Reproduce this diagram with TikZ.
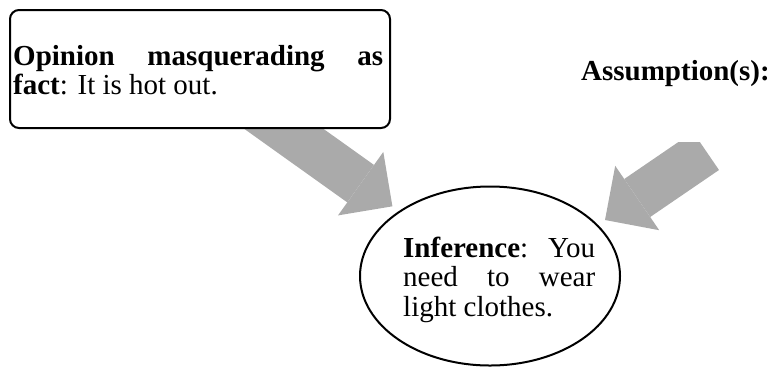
\documentclass[tikz,border=0pt]{standalone}
\usepackage{fontspec}
\setmainfont{Liberation Serif}
\usetikzlibrary{arrows.meta,positioning,calc,shapes.geometric,backgrounds}
\definecolor{ink}{HTML}{000000}
\definecolor{blockgray}{HTML}{AAAAAA}

\begin{document}
\begin{tikzpicture}[x=1pt,y=-1pt]
    \tikzset{
      factbox/.style={draw=ink,line width=2pt,rounded corners=9pt,fill=white,minimum width=380pt,minimum height=118pt,inner sep=0pt},
      infshape/.style={ellipse,draw=ink,line width=2pt,minimum width=260pt,minimum height=179pt,inner sep=0pt},
      bodytext/.style={inner sep=0pt,align=justify,font=\fontsize{29pt}{29.5pt}\selectfont,
        execute at begin node={\hyphenpenalty=10000 \tolerance=9999 }},
      bigarrow/.style={draw=blockgray,line width=46pt,-{Triangle[length=39pt,width=78pt,line width=0pt,fill=blockgray]}}
    }
    \useasboundingbox (0,0) rectangle (770,368);
    \node[factbox] (fact) at (200,69) {};
    \node[bodytext,text width=370pt,anchor=base west] (facttext) at (13,65) {\textbf{Opinion masquerading as}\linebreak \textbf{fact}: It is hot out.};
    \node[bodytext,anchor=base west] (assume) at (581,80) {\textbf{Assumption(s):}};
    \node[infshape] (inf) at (490,276) {};
    \node[bodytext,text width=192pt,anchor=base west] (inftext) at (403,257) {\textbf{Inference}: You need to wear light clothes.};
    \coordinate (rtail) at (706,151);
    \coordinate (rtip) at (605,220);
    \begin{scope}[on background layer]
      \draw[bigarrow,shorten >=8pt] (fact.center) -- (inf);
      \clip (0,142) rectangle (770,368);
      \draw[bigarrow] (rtail) -- (rtip);
    \end{scope}
  \end{tikzpicture}
\end{document}
